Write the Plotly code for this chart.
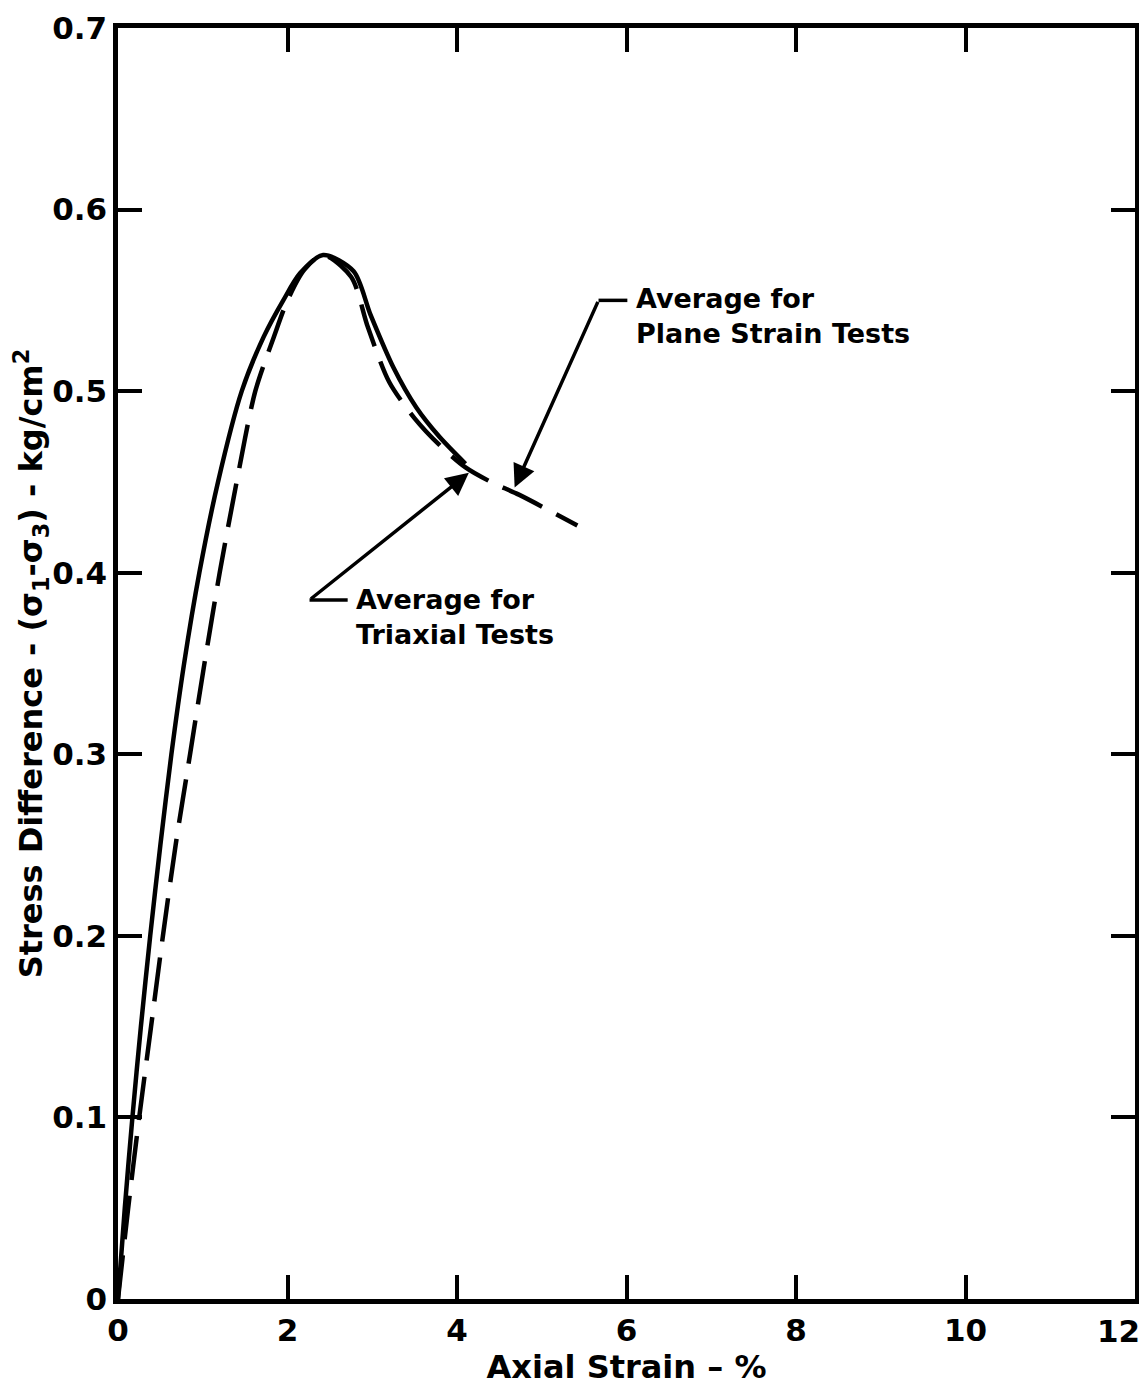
import plotly.graph_objects as go

# ---- data ----
triaxial_strain = [0.0, 0.08, 0.17, 0.27, 0.38, 0.5, 0.63, 0.78, 0.96, 1.18, 1.46, 1.72, 1.95, 2.15, 2.42, 2.78, 2.98, 3.25, 3.52, 3.79, 4.1]
triaxial_stress = [0.0, 0.05, 0.10, 0.15, 0.20, 0.25, 0.30, 0.35, 0.40, 0.45, 0.50, 0.53, 0.55, 0.565, 0.575, 0.566, 0.542, 0.513, 0.491, 0.475, 0.46]

plane_strain = [0.0, 0.12, 0.25, 0.39, 0.53, 0.68, 0.85, 1.02, 1.2, 1.4, 1.62, 1.84, 2.0, 2.2, 2.42, 2.75, 2.95, 3.2, 3.5, 3.8, 4.1, 4.4, 4.73, 5.42]
plane_stress = [0.0, 0.05, 0.10, 0.15, 0.20, 0.25, 0.30, 0.35, 0.40, 0.45, 0.50, 0.53, 0.55, 0.567, 0.575, 0.563, 0.535, 0.505, 0.485, 0.47, 0.458, 0.45, 0.443, 0.426]

x_tick_vals = [0, 2, 4, 6, 8, 10, 12]
x_tick_text = ["0", "2", "4", "6", "8", "10", ""]
last_x_label = "12"
y_tick_vals = [0, 0.1, 0.2, 0.3, 0.4, 0.5, 0.6, 0.7]
y_tick_text = ["0", "0.1", "0.2", "0.3", "0.4", "0.5", "0.6", "0.7"]

tri_label = "Average for<br>Triaxial Tests"
plane_label = "Average for<br>Plane Strain Tests"

# annotation geometry (data units)
tri_head = (4.14, 0.455)
tri_corner = (2.26, 0.385)
tri_text_pos = (2.79, 0.3755)
plane_head = (4.68, 0.447)
plane_corner = (5.67, 0.55)
plane_text_pos = (6.09, 0.5416)

FONT = "DejaVu Sans"

fig = go.Figure()
fig.add_trace(go.Scatter(x=triaxial_strain, y=triaxial_stress, mode="lines",
                         line=dict(color="black", width=4.5, shape="spline", smoothing=0.8),
                         name="Triaxial", showlegend=False))
fig.add_trace(go.Scatter(x=plane_strain, y=plane_stress, mode="lines",
                         line=dict(color="black", width=4.5, dash="44px,16px", shape="spline", smoothing=0.8),
                         name="Plane strain", showlegend=False))

# leader lines (horizontal part)
for corner, text_pos in [(tri_corner, tri_text_pos), (plane_corner, plane_text_pos)]:
    fig.add_shape(type="line", xref="x", yref="y",
                  x0=corner[0], y0=corner[1], x1=text_pos[0] - 0.08, y1=corner[1],
                  line=dict(color="black", width=3.5))

# arrows
for head, corner in [(tri_head, tri_corner), (plane_head, plane_corner)]:
    fig.add_annotation(x=head[0], y=head[1], ax=corner[0], ay=corner[1],
                       xref="x", yref="y", axref="x", ayref="y",
                       text="", showarrow=True, arrowhead=2, arrowsize=1.3,
                       arrowwidth=3.5, arrowcolor="black", standoff=0)

for label, pos in [(tri_label, tri_text_pos), (plane_label, plane_text_pos)]:
    fig.add_annotation(x=pos[0], y=pos[1], xref="x", yref="y", text="<b>" + label + "</b>",
                       showarrow=False, xanchor="left", yanchor="middle", align="left",
                       font=dict(family=FONT, size=27, color="black"))

# last x tick label, kept inside the page
fig.add_annotation(x=12, y=0, xref="x", yref="paper", text="<b>" + last_x_label + "</b>",
                   showarrow=False, xanchor="right", yanchor="top", xshift=7, yshift=-12,
                   font=dict(family=FONT, size=31, color="black"))

axis_common = dict(showline=True, linecolor="black", linewidth=4.5, mirror="ticks",
                   ticks="inside", ticklen=24, tickwidth=3.5, tickcolor="black",
                   showgrid=False, zeroline=False,
                   tickfont=dict(family=FONT, size=31, color="black", weight="bold"))

fig.update_xaxes(range=[0, 12], tickvals=x_tick_vals, ticktext=x_tick_text,
                 title=dict(text="<b>Axial Strain – %</b>", font=dict(family=FONT, size=32, color="black"),
                            standoff=4),
                 **axis_common)
fig.update_yaxes(range=[0, 0.7], tickvals=y_tick_vals, ticktext=y_tick_text,
                 title=dict(text="<b>Stress Difference - (σ<sub>1</sub>-σ<sub>3</sub>) - kg/cm<sup>2</sup></b>",
                            font=dict(family=FONT, size=32, color="black"), standoff=12),
                 **axis_common)

fig.update_layout(width=1147, height=1389, paper_bgcolor="white", plot_bgcolor="white",
                  margin=dict(l=110, r=20, t=20, b=98, autoexpand=False),
                  showlegend=False)

fig.write_html("out.html")
